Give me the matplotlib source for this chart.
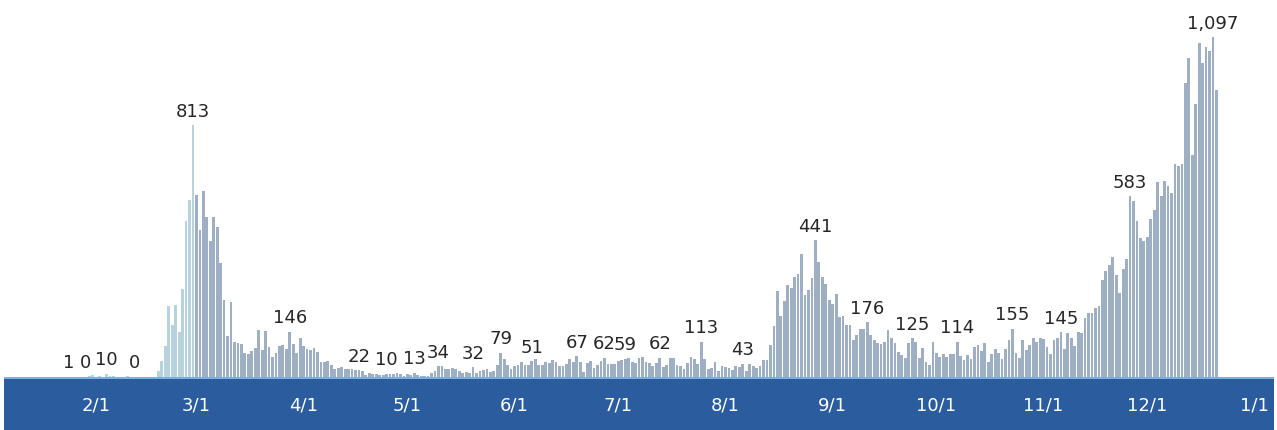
import numpy as np
import pandas as pd
import matplotlib
matplotlib.use("Agg")
import matplotlib.pyplot as plt
import matplotlib.dates as mdates
from matplotlib.patches import Rectangle

# daily new cases, 2020-01-20 .. 2020-12-21
jan = [1, 0, 0, 0, 1, 0, 1, 1, 0, 0, 2, 5]
feb = [1, 3, 0, 10, 3, 4, 1, 0, 1, 2, 0, 0, 0, 0, 0, 1, 1, 1, 20, 53,
       100, 229, 169, 231, 144, 284, 505, 571, 813]
mar = [586, 476, 600, 516, 438, 518, 483, 367, 248, 131, 242, 114, 110, 107, 76, 74,
       84, 93, 152, 87, 147, 98, 64, 76, 100, 104, 91, 146, 105, 78, 125]
apr = [101, 89, 86, 94, 81, 47, 47, 53, 39, 27, 30, 32, 25, 27, 27, 22, 22, 18, 8, 13,
       9, 11, 8, 6, 10, 10, 10, 14, 9, 4]
may = [9, 6, 13, 8, 3, 2, 4, 12, 18, 34, 35, 27, 26, 29, 27, 19, 13, 15, 13, 32,
       12, 20, 23, 25, 16, 19, 40, 79, 58, 39, 27]
jun = [35, 38, 49, 39, 39, 51, 57, 38, 38, 50, 45, 56, 49, 37, 34, 43, 59, 49, 67, 48,
       17, 46, 51, 28, 39, 51, 62, 42, 42, 43]
jul = [51, 54, 59, 61, 48, 44, 62, 63, 50, 45, 35, 44, 62, 33, 39, 61, 60, 39, 34, 26,
       45, 63, 59, 41, 113, 58, 25, 28, 48, 18, 36]
aug = [31, 30, 23, 34, 33, 43, 20, 43, 36, 28, 34, 54, 56, 103, 166, 279, 197, 246, 297, 288,
       324, 332, 397, 266, 280, 320, 441, 371, 323, 299, 248]
sep = [235, 267, 195, 198, 168, 167, 119, 136, 156, 155, 176, 136, 121, 109, 106, 113, 153, 126, 110, 82,
       70, 61, 110, 125, 114, 61, 95, 50, 38, 113]
oct_ = [77, 63, 75, 64, 73, 75, 114, 69, 54, 72, 58, 98, 102, 84, 110, 47, 73, 91, 76, 58,
        89, 121, 155, 77, 61, 119, 88, 103, 125, 114, 127]
nov = [124, 97, 75, 118, 125, 145, 89, 143, 126, 100, 146, 143, 191, 205, 208, 223, 230, 313, 343, 363,
       386, 330, 271, 349, 382, 583, 569, 504, 450, 438]
dec = [451, 511, 540, 629, 583, 631, 615, 594, 686, 682, 689, 950, 1030, 718, 880, 1078, 1014, 1064, 1053, 1097,
       926]

cases = jan + feb + mar + apr + may + jun + jul + aug + sep + oct_ + nov + dec
dates = pd.date_range("2020-01-20", periods=len(cases), freq="D")

label_dates = ["2020-01-24", "2020-01-29", "2020-02-04", "2020-02-12", "2020-02-29",
               "2020-03-28", "2020-04-17", "2020-04-25", "2020-05-03", "2020-05-10",
               "2020-05-20", "2020-05-28", "2020-06-06", "2020-06-19", "2020-06-27",
               "2020-07-03", "2020-07-13", "2020-07-25", "2020-08-06", "2020-08-27",
               "2020-09-11", "2020-09-24", "2020-10-07", "2020-10-23", "2020-11-06",
               "2020-11-26", "2020-12-20"]

tick_dates = pd.date_range("2020-02-01", "2021-01-01", freq="MS")
tick_labels = [f"{d.month}/1" for d in tick_dates]

series = pd.Series(cases, index=dates)

fig = plt.figure(figsize=(12.77, 4.31), dpi=100)

# blue band under the bars
fig.patches.append(Rectangle((4 / 1277, 0), 1270 / 1277, 53 / 431, transform=fig.transFigure,
                             facecolor="#2a5c9e", edgecolor="none", zorder=-2))
fig.patches.append(Rectangle((4 / 1277, 51 / 431), 1270 / 1277, 2 / 431, transform=fig.transFigure,
                             facecolor="#7fb0dc", edgecolor="none", zorder=-1))

ax = fig.add_axes([0, 53 / 431, 1, 378 / 431])
ax.patch.set_alpha(0)

early = dates < pd.Timestamp("2020-03-01")
cols = np.where(early, "#b6d2dc", "#9eafc4")
ax.bar(dates, cases, width=0.8, color=cols, linewidth=0)

for d in label_dates:
    v = series[pd.Timestamp(d)]
    ax.annotate(f"{v:,}", (pd.Timestamp(d), v), xytext=(0, 4), textcoords="offset points",
                ha="center", va="bottom", fontsize=13, color="#262626")

base = mdates.date2num(pd.Timestamp("2020-01-01"))
ax.set_xlim(base + 3.19, base + 372.5)
ax.set_ylim(0, 1220)
ax.set_yticks([])
ax.set_xticks(tick_dates)
ax.set_xticklabels(tick_labels)
ax.tick_params(axis="x", length=0, pad=13, labelcolor="white", labelsize=13)
for s in ax.spines.values():
    s.set_visible(False)

fig.savefig("out.png", dpi=100)
